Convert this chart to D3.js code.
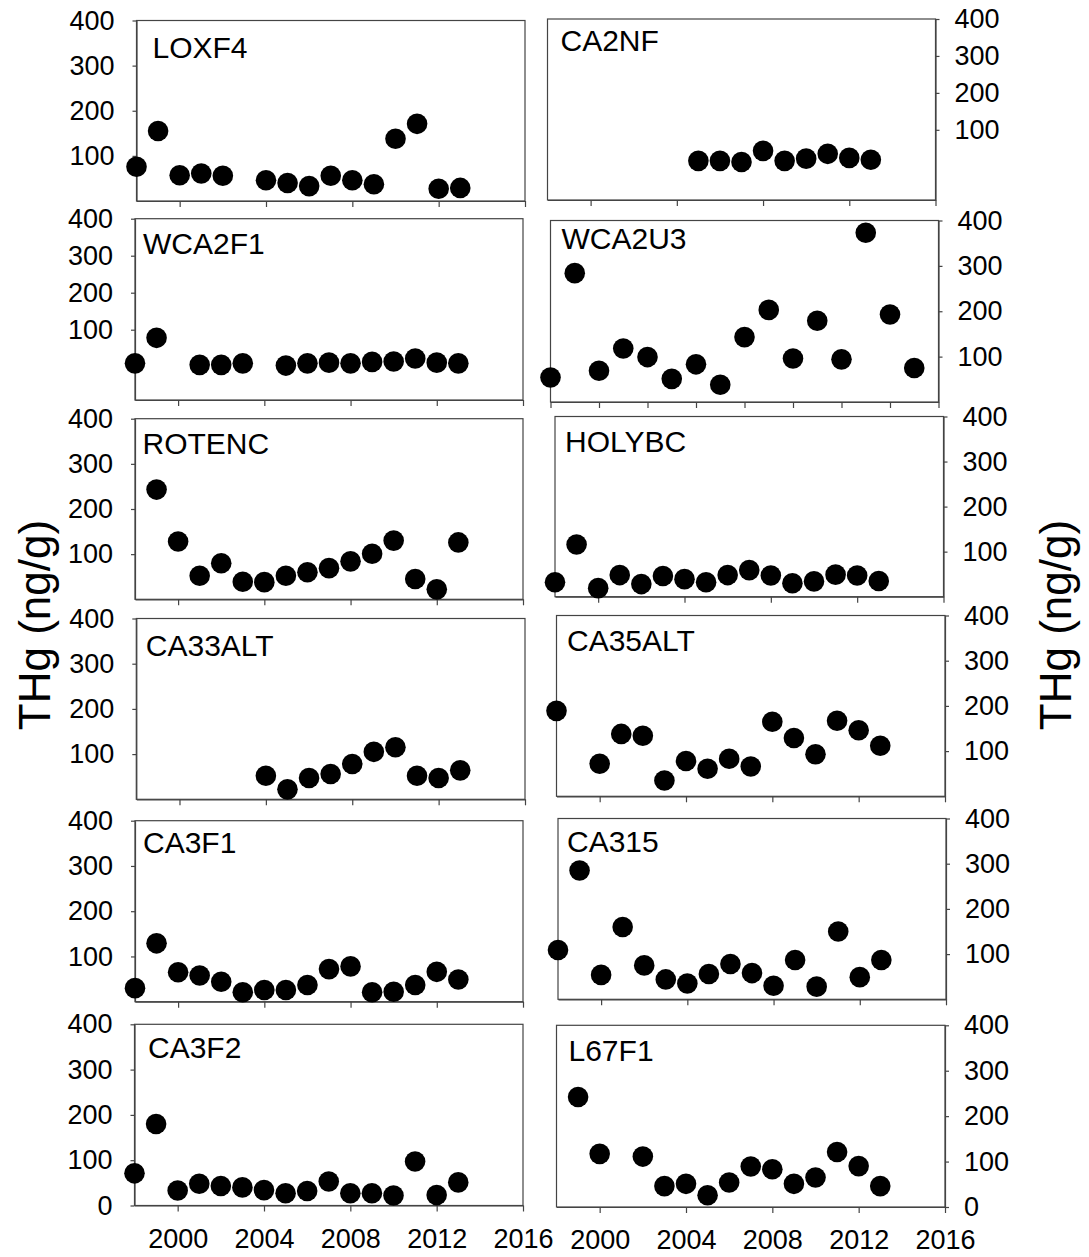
<!DOCTYPE html>
<html>
<head>
<meta charset="utf-8">
<script src="https://cdnjs.cloudflare.com/ajax/libs/d3/7.8.5/d3.min.js"></script>
<style>
body{margin:0;background:#fff}
svg{display:block;font-family:"Liberation Sans",Arial,sans-serif}
</style>
</head>
<body>
<svg id="chart" width="1089" height="1257"></svg>
<script>
// site names, in reading order (left, right per row)
var sites = ["LOXF4","CA2NF","WCA2F1","WCA2U3","ROTENC","HOLYBC","CA33ALT","CA35ALT","CA3F1","CA315","CA3F2","L67F1"];

// THg (ng/g) per year
var loxf4Years = [1998,1999,2000,2001,2002,2004,2005,2006,2007,2008,2009,2010,2011,2012,2013];
var loxf4THg   = [76,155,57,61,56,46,40,33,56,46,37,138,171,27,29];

var ca2nfYears = [2005,2006,2007,2008,2009,2010,2011,2012,2013];
var ca2nfTHg   = [16,16,13,43,16,22,35,24,19];

var wca2f1Years = [1998,1999,2001,2002,2003,2005,2006,2007,2008,2009,2010,2011,2012,2013];
var wca2f1THg   = [9,78,5,5,9,3,9,11,9,13,14,22,11,9];

var wca2u3Years = [1998,1999,2000,2001,2002,2003,2004,2005,2006,2007,2008,2009,2010,2011,2012,2013];
var wca2u3THg   = [54,284,69,118,99,51,83,38,143,203,96,179,94,373,193,75];

var rotencYears = [1999,2000,2001,2002,2003,2004,2005,2006,2007,2008,2009,2010,2011,2012,2013];
var rotencTHg   = [243,128,52,80,39,38,52,60,69,84,101,130,45,22,126];

var holybcYears = [1998,1999,2000,2001,2002,2003,2004,2005,2006,2007,2008,2009,2010,2011,2012,2013];
var holybcTHg   = [32,116,19,48,28,46,39,32,48,59,47,30,34,49,47,35];

var ca33altYears = [2004,2005,2006,2007,2008,2009,2010,2011,2012,2013];
var ca33altTHg   = [52,22,47,56,78,105,115,52,47,64];

var ca35altYears = [1998,2000,2001,2002,2003,2004,2005,2006,2007,2008,2009,2010,2011,2012,2013];
var ca35altTHg   = [189,72,138,134,35,78,61,83,66,165,129,93,167,146,112];

var ca3f1Years = [1998,1999,2000,2001,2002,2003,2004,2005,2006,2007,2008,2009,2010,2011,2012,2013];
var ca3f1THg   = [30,129,65,58,44,21,26,26,37,72,78,21,22,37,66,49];

var ca315Years = [1998,1999,2000,2001,2002,2003,2004,2005,2006,2007,2008,2009,2010,2011,2012,2013];
var ca315THg   = [109,285,54,160,75,44,35,56,78,58,30,87,28,150,49,87];

var ca3f2Years = [1998,1999,2000,2001,2002,2003,2004,2005,2006,2007,2008,2009,2010,2011,2012,2013];
var ca3f2THg   = [71,180,33,48,43,40,34,27,32,53,27,27,22,97,23,51];

var l67f1Years = [1999,2000,2002,2003,2004,2005,2006,2007,2008,2009,2010,2011,2012,2013];
var l67f1THg   = [242,117,111,46,51,26,54,89,83,51,65,121,90,46];

var allYears = [loxf4Years,ca2nfYears,wca2f1Years,wca2u3Years,rotencYears,holybcYears,ca33altYears,ca35altYears,ca3f1Years,ca315Years,ca3f2Years,l67f1Years];
var allTHg   = [loxf4THg,ca2nfTHg,wca2f1THg,wca2u3THg,rotencTHg,holybcTHg,ca33altTHg,ca35altTHg,ca3f1THg,ca315THg,ca3f2THg,l67f1THg];

// tick values
var xTicks = [2000,2004,2008,2012,2016];
var xTicksTwoYr = [1998,2000,2002,2004,2006,2008,2010,2012,2014];
var yTicks = [100,200,300,400];
var yTicksZero = [0,100,200,300,400];
var yTitle = "THg (ng/g)";

// panel frames (pixels) - the figure is pasted together so every box is a bit off
var layout = [
  {x0:136.5,x1:525,y0:20.5,y1:201,  side:"left", xd:[1998,2016], yd:[0,400],  tdx:16, tdy:37},
  {x0:547.5,x1:935.5,y0:19,y1:200,  side:"right",xd:[1998,2016], yd:[-90,400],tdx:13, tdy:32},
  {x0:135,x1:523,y0:218.7,y1:400,   side:"left", xd:[1998,2016], yd:[-90,400],tdx:8,  tdy:35},
  {x0:550.5,x1:938.5,y0:220.5,y1:402,side:"right",xd:[1998,2014],yd:[0,400],  tdx:11, tdy:28, fine:true},
  {x0:135,x1:523,y0:418.7,y1:599.3, side:"left", xd:[1998,2016], yd:[0,400],  tdx:7.5,tdy:35},
  {x0:555,x1:943.5,y0:416.5,y1:596.7,side:"right",xd:[1998,2016],yd:[0,400],  tdx:10, tdy:35},
  {x0:136.3,x1:525,y0:618.5,y1:799.3,side:"left",xd:[1998,2016], yd:[0,400],  tdx:9.5,tdy:37},
  {x0:556.5,x1:945,y0:615.5,y1:796.3,side:"right",xd:[1998,2016],yd:[0,400],  tdx:10.5,tdy:35},
  {x0:135,x1:523,y0:820.7,y1:1001.7,side:"left", xd:[1998,2016], yd:[0,400],  tdx:8,  tdy:32},
  {x0:558,x1:946,y0:818.5,y1:999.3, side:"right",xd:[1998,2016], yd:[0,400],  tdx:9,  tdy:33},
  {x0:134.5,x1:523,y0:1024.3,y1:1205.5,side:"left",xd:[1998,2016],yd:[0,400], tdx:13.5,tdy:34, bottom:true},
  {x0:556.5,x1:945,y0:1025.3,y1:1207,side:"right",xd:[1998,2016],yd:[0,400],  tdx:12, tdy:36, bottom:true}
];

var svg = d3.select("#chart");
var ink = "#222";

layout.forEach(function(p, i){
  var x = d3.scaleLinear().domain(p.xd).range([p.x0, p.x1]);
  var y = d3.scaleLinear().domain(p.yd).range([p.y1, p.y0]);
  var g = svg.append("g");

  g.append("rect")
    .attr("x", p.x0).attr("y", p.y0)
    .attr("width", p.x1 - p.x0).attr("height", p.y1 - p.y0)
    .attr("fill", "none").attr("stroke", "#444").attr("stroke-width", 1.2);

  var xAxis = d3.axisBottom(x)
    .tickValues(p.fine ? xTicksTwoYr : xTicks)
    .tickSize(6).tickSizeOuter(0).tickPadding(17)
    .tickFormat(p.bottom ? d3.format("d") : "");
  var gx = g.append("g").attr("transform", "translate(0," + p.y1 + ")").call(xAxis);

  var yAxis = (p.side == "left" ? d3.axisLeft(y) : d3.axisRight(y))
    .tickValues(p.bottom ? yTicksZero : yTicks)
    .tickSize(4).tickSizeOuter(0)
    .tickPadding(p.side == "left" ? 18 : 15);
  var gy = g.append("g")
    .attr("transform", "translate(" + (p.side == "left" ? p.x0 : p.x1) + ",0)")
    .call(yAxis);

  [gx, gy].forEach(function(a){
    a.attr("font-family", null).attr("font-size", 27).style("color", ink);
    a.select(".domain").attr("stroke", "#444").attr("stroke-width", 1.2);
    a.selectAll(".tick line").attr("stroke", "#444").attr("stroke-width", 1.2);
    a.selectAll(".tick text").attr("fill", "#000");
  });

  g.selectAll("circle")
    .data(d3.zip(allYears[i], allTHg[i]))
    .enter().append("circle")
    .attr("cx", function(d){ return x(d[0]); })
    .attr("cy", function(d){ return y(d[1]); })
    .attr("r", 10.3)
    .attr("fill", "#000");

  g.append("text")
    .attr("x", p.x0 + p.tdx).attr("y", p.y0 + p.tdy)
    .attr("font-size", 30).attr("fill", "#000")
    .text(sites[i]);
});

// axis titles, both read bottom to top
svg.append("text")
  .attr("transform", "translate(50,625) rotate(-90)")
  .attr("text-anchor", "middle").attr("font-size", 44)
  .text(yTitle);
svg.append("text")
  .attr("transform", "translate(1071,625) rotate(-90)")
  .attr("text-anchor", "middle").attr("font-size", 44)
  .text(yTitle);
</script>
</body>
</html>
